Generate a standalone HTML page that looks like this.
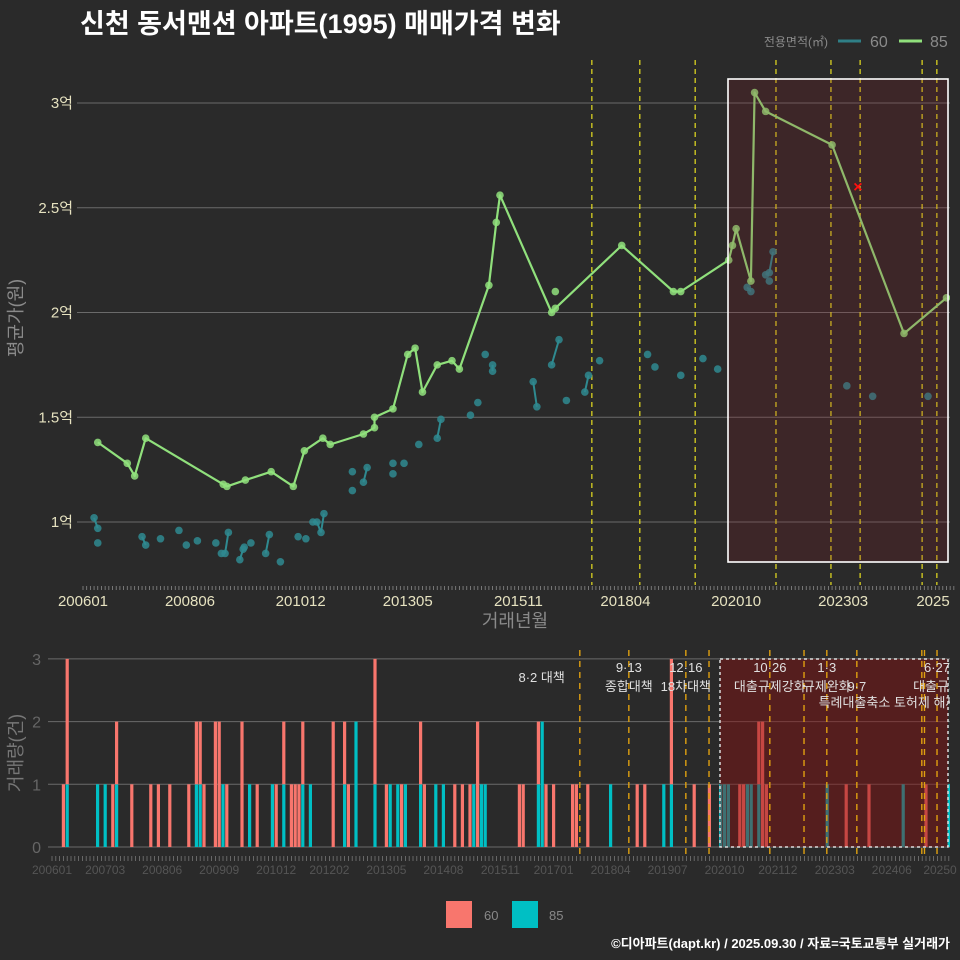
<!DOCTYPE html>
<html><head><meta charset="utf-8">
<style>
html,body{margin:0;padding:0;background:#2a2a2a;}
svg{display:block;font-family:"Liberation Sans","Noto Sans CJK KR",sans-serif;}
</style></head>
<body>
<svg id="chart" width="960" height="960" viewBox="0 0 960 960">
<defs>
<clipPath id="topclip"><rect x="78" y="55" width="872" height="530"/></clipPath>
<clipPath id="botclip"><rect x="50" y="650" width="900" height="205"/></clipPath>
</defs>
<rect x="0" y="0" width="960" height="960" fill="#2a2a2a"/>
<text x="80" y="33" fill="#ffffff" font-size="27" font-weight="bold">신천 동서맨션 아파트(1995) 매매가격 변화</text>
<g>
<text x="828" y="46" fill="#8a8a8a" font-size="12" text-anchor="end">전용면적(㎡)</text>
<line x1="838" y1="41" x2="861" y2="41" stroke="#2f7f86" stroke-width="3"/>
<text x="870" y="47" fill="#8a8a8a" font-size="16">60</text>
<line x1="899" y1="41" x2="922" y2="41" stroke="#90e07c" stroke-width="3"/>
<text x="930" y="47" fill="#8a8a8a" font-size="16">85</text>
</g>
<g id="toppanel"></g>
<g id="botpanel"></g>
<g>
<rect x="446" y="901" width="26" height="27" fill="#f8766d"/>
<text x="484" y="920" fill="#888" font-size="13">60</text>
<rect x="512" y="901" width="26" height="27" fill="#00bfc4"/>
<text x="549" y="920" fill="#888" font-size="13">85</text>
</g>
<text x="950" y="948" fill="#ffffff" font-size="13" font-weight="bold" text-anchor="end">©디아파트(dapt.kr) / 2025.09.30 / 자료=국토교통부 실거래가</text>
</svg>
<script>
// ---- data (month index from 2006-01) ----
const price85Months = [4,12,14,17,38,39,44,51,57,60,65,67,76,79,79,84,88,90,92,96,100,102,110,112,113,127,128,146,160,162,175,176,177,181,182,185,203,222.5,234];
const price85Values = [1.38,1.28,1.22,1.40,1.18,1.17,1.20,1.24,1.17,1.34,1.40,1.37,1.42,1.45,1.50,1.54,1.80,1.83,1.62,1.75,1.77,1.73,2.13,2.43,2.56,2.00,2.02,2.32,2.10,2.10,2.25,2.32,2.40,2.15,3.05,2.96,2.80,1.90,2.07];
const extra85Months = [128];
const extra85Values = [2.10];
const price60Months = [3,4,4,16,17,21,26,28,31,36,37.5,38.5,39.4,42.5,43.4,43.7,45.5,49.5,50.5,53.5,58.3,60.4,62.3,63.4,64.5,65.3,73,73,76,77,84,84,87,91,96,97,105,107,109,111,111,122,123,127,129,131,136,137,140,153,155,162,168,172,180,181,185,186,186,187,207,214,229];
const price60Values = [1.02,0.97,0.90,0.93,0.89,0.92,0.96,0.89,0.91,0.90,0.85,0.85,0.95,0.82,0.87,0.88,0.90,0.85,0.94,0.81,0.93,0.92,1.00,1.00,0.95,1.04,1.24,1.15,1.19,1.26,1.28,1.23,1.28,1.37,1.40,1.49,1.51,1.57,1.80,1.75,1.72,1.67,1.55,1.75,1.87,1.58,1.62,1.70,1.77,1.80,1.74,1.70,1.78,1.73,2.12,2.10,2.18,2.19,2.15,2.29,1.65,1.60,1.60];
const seg60 = [[0,1],[3,4],[11,12],[13,14],[17,18],[22,23],[23,24],[24,25],[28,29],[34,35],[39,40],[41,42],[43,44],[46,47],[54,55],[56,57],[57,59]];
const outlierMonth = [210];
const outlierValue = [2.60];
const yTicks = [1,1.5,2,2.5,3];
const yTickLabels = ["1억","1.5억","2억","2.5억","3억"];
const xTickMonths = [0,29,59,88,118,147,177,206,235];
const xTickLabels = ["200601","200806","201012","201305","201511","201804","202010","202303","2025"];
const policyTopMonths = [137.9,150.9,165.9,187.8,202.7,210.6,227.4,231.4];

const barMonths = [3,4,12,14,16,17,21,26,28,31,36,38,39,40,43,44,45,46,50,52,54,58,59,61,63,64,65,66,68,74,77,78,80,85,88,89,91,92,93,97,98,101,103,106,108,110,111,112,113,114,123,124,128,129,130,132,137,138,141,147,154,156,161,163,169,173,176,177,178,181,182,183,184,186,187,188,204,209,215,224,230,236];
const barCount85 = [0,1,1,1,0,1,0,0,0,0,0,1,1,0,0,0,1,0,0,1,0,1,0,1,0,0,0,1,1,0,1,0,2,1,0,1,1,0,1,1,0,1,1,0,0,0,1,0,1,1,0,0,1,2,0,0,0,0,0,1,0,0,1,1,0,0,1,1,1,0,0,1,1,1,0,0,1,0,0,1,0,1];
const barCount60 = [1,2,0,0,1,1,1,1,1,1,1,1,1,1,2,2,0,1,2,0,1,0,1,1,1,1,1,1,0,2,1,1,0,2,1,0,0,1,0,1,1,0,0,1,1,1,0,2,0,0,1,1,1,0,1,1,1,1,1,0,1,1,0,2,1,1,0,0,0,1,1,0,0,1,2,1,0,1,1,0,1,0];
const barYTicks = [0,1,2,3];
const barXTickMonths = [0,14,29,44,59,73,88,103,118,132,147,162,177,191,206,221,236];
const barXTickLabels = ["200601","200703","200806","200909","201012","201202","201305","201408","201511","201701","201804","201907","202010","202112","202303","202406","20250"];
const policyBotMonths = [138.9,151.8,166.8,172.9,188.9,197.9,203.9,211.8,228.9,229.6,232.9];
const annMonths = [136,151.8,166.8,188.9,203.9,211.8,232.9];
const annTop = ["","9·13","12·16","10·26","1·3","","6·27"];
const annBottom = ["8·2 대책","종합대책","18차대책","대출규제강화","규제완화","9·7","대출규제"];

// ---- scales ----
const xT = m => 83 + m*3.69;
const yT = v => 522 - (v-1)*209.5;
const xB = m => 52 + m*3.8;
const yB = c => 847 - c*62.7;
const NS = "http://www.w3.org/2000/svg";
function mk(parent, tag, attrs){const e=document.createElementNS(NS,tag);for(const k in attrs)e.setAttribute(k,attrs[k]);parent.appendChild(e);return e;}

const topEl = document.getElementById('toppanel');
const botEl = document.getElementById('botpanel');

yTicks.forEach((v,i)=>{
  const g = mk(topEl,'line',{x1:77,x2:950,y1:yT(v),y2:yT(v),stroke:'#6a6a6a','stroke-width':1});
  
  
  const t = mk(topEl,'text',{x:73,y:yT(v)+5,fill:'#e6e2c0','font-size':15,'text-anchor':'end'});
  t.textContent = yTickLabels[i];
  
  
});
for(let m=0;m<=236;m++){
  const l = mk(topEl,'line',{x1:xT(m),x2:xT(m),y1:586,y2:590,stroke:'#8a8a8a','stroke-width':0.8});
  
  
}
xTickMonths.forEach((m,i)=>{
  const t = mk(topEl,'text',{x:Math.min(xT(m),933),y:606,fill:'#e6e2c0','font-size':15,'text-anchor':'middle'});
  t.textContent = xTickLabels[i];
  
  
});
{
  const t = mk(topEl,'text',{x:515,y:627,fill:'#8a8a8a','font-size':18,'text-anchor':'middle'});
  t.textContent='거래년월';
  
  
  const t2 = mk(topEl,'text',{x:0,y:0,fill:'#8a8a8a','font-size':18,'text-anchor':'middle',transform:'translate(22,318) rotate(-90)'});
  t2.textContent='평균가(원)';
  
  
}
const topG = mk(topEl,'g',{'clip-path':'url(#topclip)'});


policyTopMonths.forEach(m=>{
  const l = mk(topG,'line',{x1:xT(m),x2:xT(m),y1:60,y2:585,stroke:'#e8e020','stroke-width':1.2,'stroke-dasharray':'5,4'});
  
  
});
seg60.forEach(p=>{
  const l = mk(topG,'line',{x1:xT(price60Months[p[0]]),y1:yT(price60Values[p[0]]),x2:xT(price60Months[p[1]]),y2:yT(price60Values[p[1]]),stroke:'#2f8a90','stroke-width':2});
  
  
});
price60Months.forEach((m,i)=>{
  const c = mk(topG,'circle',{cx:xT(m),cy:yT(price60Values[i]),r:3.8,fill:'#2f8a90','fill-opacity':0.85});
  
  
});
{
  const d = price85Months.map((m,i)=>(i?'L':'M')+xT(m).toFixed(1)+','+yT(price85Values[i]).toFixed(1)).join(' ');
  const p = mk(topG,'path',{d:d,fill:'none',stroke:'#90e07c','stroke-width':2.2,'stroke-linejoin':'round'});
  
  
}
price85Months.concat(extra85Months).forEach((m,i)=>{
  const v = i<price85Values.length?price85Values[i]:extra85Values[i-price85Values.length];
  const c = mk(topG,'circle',{cx:xT(m),cy:yT(v),r:3.8,fill:'#90e07c','fill-opacity':0.85});
  
  
});
{
  const r = mk(topG,'rect',{x:728,y:79,width:220,height:483,fill:'#8a1a22','fill-opacity':0.2,stroke:'#ffffff','stroke-width':1.6});
  
  
}
outlierMonth.forEach((m,i)=>{
  const t = mk(topG,'text',{x:xT(m),y:yT(outlierValue[i])+5,fill:'#ff1010','font-size':16,'text-anchor':'middle','font-weight':'bold'});
  t.textContent='×';
  
  
});

barYTicks.forEach(v=>{
  const g = mk(botEl,'line',{x1:48,x2:950,y1:yB(v),y2:yB(v),stroke:'#6a6a6a','stroke-width':1});
  
  
  const t = mk(botEl,'text',{x:41,y:yB(v)+6,fill:'#666','font-size':16,'text-anchor':'end'});
  t.textContent=String(v);
  
  
});
for(let m=0;m<=236;m++){
  const l = mk(botEl,'line',{x1:xB(m),x2:xB(m),y1:856,y2:861,stroke:'#777','stroke-width':0.8});
  
  
}
barXTickMonths.forEach((m,i)=>{
  const t = mk(botEl,'text',{x:Math.min(xB(m),940),y:874,fill:'#555','font-size':12,'text-anchor':'middle'});
  t.textContent=barXTickLabels[i];
  
  
});
{
  const t2 = mk(botEl,'text',{x:0,y:0,fill:'#777','font-size':18,'text-anchor':'middle',transform:'translate(22,753) rotate(-90)'});
  t2.textContent='거래량(건)';
  
  
}
const botG = mk(botEl,'g',{'clip-path':'url(#botclip)'});


barMonths.forEach((m,i)=>{
  const x = xB(m)-1.6;
  const c85 = barCount85[i], c60 = barCount60[i];
  if(c85>0){
    const r = mk(botG,'rect',{x:x,y:yB(c85),width:3.2,height:yB(0)-yB(c85),fill:'#00bfc4'});
    
    
  }
  if(c60>0){
    const r = mk(botG,'rect',{x:x,y:yB(c85+c60),width:3.2,height:yB(c85)-yB(c85+c60),fill:'#f8766d'});
    
    
  }
});
{
  const r = mk(botG,'rect',{x:720,y:659,width:228,height:188,fill:'#8a1010','fill-opacity':0.45,stroke:'#dddddd','stroke-width':1.5,'stroke-dasharray':'3,3'});
  
  
}
policyBotMonths.forEach(m=>{
  const l = mk(botG,'line',{x1:xB(m),x2:xB(m),y1:650,y2:855,stroke:'#e0a010','stroke-width':1.4,'stroke-dasharray':'6,5'});
  
  
});
annMonths.forEach((m,i)=>{
  if(annTop[i]){
    const t = mk(botG,'text',{x:xB(m),y:672,fill:'#e0e0e0','font-size':13,'text-anchor':'middle'});
    t.textContent=annTop[i];
    
    
  }
  const t2 = mk(botG,'text',{x:xB(m)+(i===0?-4:0),y:i===0?682:691,fill:'#e0e0e0','font-size':13,'text-anchor':i===0?'end':'middle'});
  t2.textContent=annBottom[i];
  
  
});
{
  const t = mk(botG,'text',{x:888,y:707,fill:'#e0e0e0','font-size':13,'text-anchor':'middle'});
  t.textContent='특례대출축소 토허제 해제';
  
  
}
</script>
</body></html>
